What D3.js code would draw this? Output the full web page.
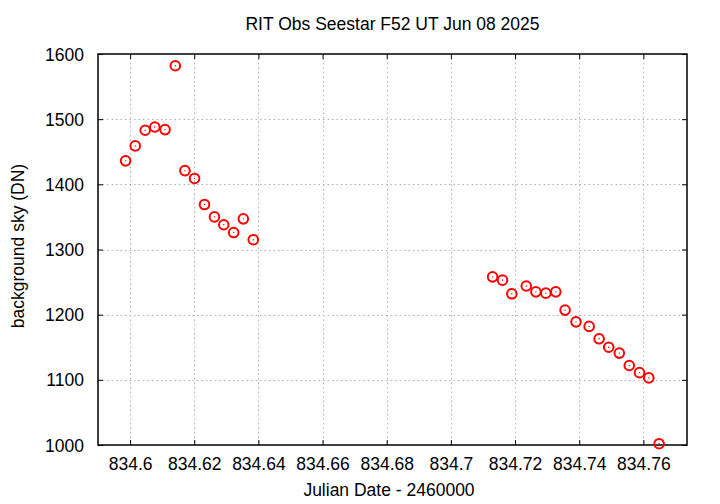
<!DOCTYPE html>
<html>
<head>
<meta charset="utf-8">
<script src="https://cdn.jsdelivr.net/npm/d3@7"></script>
<style>
html,body{margin:0;padding:0;background:#fff;}
svg{display:block;}
text{font-family:"Liberation Sans",Arial,Helvetica,sans-serif;}
</style>
</head>
<body>
<script>
const title = "RIT Obs Seestar F52 UT Jun 08 2025";
const xLabel = "Julian Date - 2460000";
const yLabel = "background sky (DN)";
const xTicks = [834.6, 834.62, 834.64, 834.66, 834.68, 834.7, 834.72, 834.74, 834.76];
const yTicks = [1000, 1100, 1200, 1300, 1400, 1500, 1600];
const jd = [834.5986, 834.6016, 834.6047, 834.6077, 834.6109, 834.6141, 834.6171, 834.6201, 834.6232, 834.6263, 834.6292, 834.6323, 834.6353, 834.6384,
            834.7130, 834.7161, 834.7190, 834.7235, 834.7265, 834.7296, 834.7327, 834.7356, 834.7390, 834.7431, 834.7462, 834.7492, 834.7525, 834.7556, 834.7588, 834.7617, 834.7649];
const sky = [1436, 1459, 1483, 1488, 1484, 1582, 1421, 1409, 1369, 1350, 1338, 1326, 1347, 1315,
             1258, 1253, 1232, 1244, 1235, 1233, 1235, 1207, 1189, 1182, 1163, 1150, 1141, 1122, 1111, 1103, 1002];

const W = 720, H = 504;
const m = {left: 98, right: 687, top: 54, bottom: 445};
const FS = 17.5;
const svg = d3.select("body").append("svg").attr("width", W).attr("height", H);

const x = d3.scaleLinear().domain([834.59, 834.7736]).range([m.left, m.right]);
const y = d3.scaleLinear().domain([1000, 1600]).range([m.bottom, m.top]);

// grid
const grid = svg.append("g").attr("stroke", "#b0b0b0").attr("stroke-width", 1).attr("stroke-dasharray", "1.5,3");
grid.selectAll("line.gx").data(xTicks).join("line")
  .attr("x1", d => Math.round(x(d)) + 0.5).attr("x2", d => Math.round(x(d)) + 0.5)
  .attr("y1", m.top).attr("y2", m.bottom);
grid.selectAll("line.gy").data(yTicks.filter(d => d > 1000 && d < 1600)).join("line")
  .attr("y1", d => Math.round(y(d)) + 0.5).attr("y2", d => Math.round(y(d)) + 0.5)
  .attr("x1", m.left).attr("x2", m.right);

// axes (inward ticks, mirrored)
const tk = 5;
const axB = svg.append("g").attr("transform", `translate(0,${m.bottom})`)
  .call(d3.axisBottom(x).tickValues(xTicks).tickSizeInner(-tk).tickSizeOuter(0).tickPadding(0).tickFormat(d3.format("")));
const axT = svg.append("g").attr("transform", `translate(0,${m.top})`)
  .call(d3.axisTop(x).tickValues(xTicks).tickSizeInner(-tk).tickSizeOuter(0).tickFormat(""));
const axL = svg.append("g").attr("transform", `translate(${m.left},0)`)
  .call(d3.axisLeft(y).tickValues(yTicks).tickSizeInner(-tk).tickSizeOuter(0).tickPadding(14).tickFormat(d3.format("")));
const axR = svg.append("g").attr("transform", `translate(${m.right},0)`)
  .call(d3.axisRight(y).tickValues(yTicks).tickSizeInner(-tk).tickSizeOuter(0).tickFormat(""));
[axB, axT, axL, axR].forEach(a => {
  a.select(".domain").remove();
  a.selectAll(".tick line").attr("stroke", "#000").attr("stroke-width", 1);
  a.selectAll("text").attr("font-size", FS).attr("fill", "#000")
   .attr("font-family", "'Liberation Sans',Arial,sans-serif");
});
axB.selectAll("text").attr("y", 25).attr("dy", 0);
axL.selectAll("text").attr("dy", "0.35em");

// border
svg.append("rect").attr("x", m.left).attr("y", m.top)
  .attr("width", m.right - m.left).attr("height", m.bottom - m.top)
  .attr("fill", "none").attr("stroke", "#000").attr("stroke-width", 1.5);

// points
const pts = jd.map((d, i) => ({x: d, y: sky[i]}));
const pg = svg.append("g");
pg.selectAll("circle.o").data(pts).join("circle")
  .attr("cx", d => x(d.x)).attr("cy", d => y(d.y)).attr("r", 4.8)
  .attr("fill", "none").attr("stroke", "#ff0000").attr("stroke-width", 2);
pg.selectAll("circle.c").data(pts).join("circle")
  .attr("cx", d => x(d.x)).attr("cy", d => y(d.y)).attr("r", 0.7)
  .attr("fill", "#ff0000");

// labels
svg.append("text").attr("x", 392.5).attr("y", 30).attr("text-anchor", "middle")
  .attr("font-size", FS).text(title);
svg.append("text").attr("x", 389).attr("y", 496).attr("text-anchor", "middle")
  .attr("font-size", FS).text(xLabel);
svg.append("text").attr("transform", `translate(24,246) rotate(-90)`).attr("text-anchor", "middle")
  .attr("font-size", FS).text(yLabel);
</script>
</body>
</html>
